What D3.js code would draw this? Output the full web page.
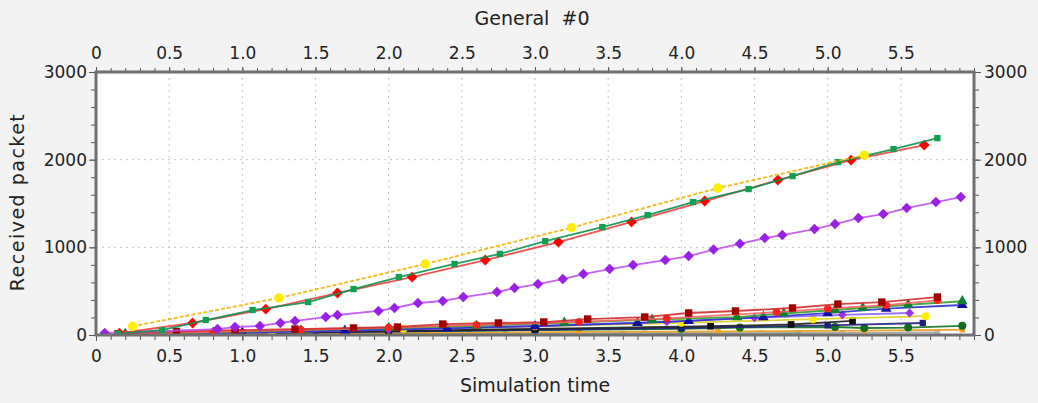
<!DOCTYPE html>
<html>
<head>
<meta charset="utf-8">
<script src="https://cdn.jsdelivr.net/npm/d3@7"></script>
<style>
  html, body { margin: 0; padding: 0; background: #f3f3f3; }
  svg { display: block; font-family: "DejaVu Sans", sans-serif; }
</style>
</head>
<body>
<svg id="chart" width="1038" height="403"></svg>
<script>
// Data (time, received packets)
var xTicks = [0, 0.5, 1.0, 1.5, 2.0, 2.5, 3.0, 3.5, 4.0, 4.5, 5.0, 5.5];
var yTicks = [0, 1000, 2000, 3000];

var yellowTop = [[0.25, 100], [1.25, 422], [2.25, 810], [3.25, 1225], [4.25, 1676], [5.25, 2052]];
var redTop = [[0.16, 20], [0.66, 137], [1.16, 296], [1.65, 479], [2.16, 661], [2.66, 855], [3.16, 1060],
              [3.66, 1290], [4.16, 1528], [4.66, 1767], [5.16, 1995], [5.66, 2166]];
var greenTop = [[0.15, 15], [0.45, 55], [0.75, 171], [1.07, 285], [1.45, 376], [1.76, 524], [2.07, 661],
                [2.45, 810], [2.76, 925], [3.07, 1070], [3.46, 1231], [3.77, 1368], [4.08, 1516],
                [4.46, 1665], [4.76, 1813], [5.07, 1972], [5.45, 2120], [5.75, 2246]];
var purpleMid = [[0.06, 23], [0.83, 68], [0.95, 91], [1.12, 103], [1.26, 137], [1.36, 160], [1.57, 205],
                 [1.65, 228], [1.93, 274], [2.04, 308], [2.2, 365], [2.37, 388], [2.51, 433], [2.74, 490],
                 [2.86, 536], [3.02, 581], [3.19, 638], [3.33, 695], [3.51, 752], [3.67, 798], [3.89, 855],
                 [4.05, 900], [4.22, 975], [4.4, 1040], [4.57, 1106], [4.69, 1140], [4.91, 1209],
                 [5.05, 1266], [5.21, 1334], [5.38, 1380], [5.54, 1448], [5.74, 1517], [5.91, 1574]];

var darkRedLow = [[0.15, 15], [0.55, 40], [0.95, 55], [1.36, 68], [1.76, 80], [2.06, 91], [2.37, 125],
                  [2.75, 137], [3.06, 148], [3.36, 182], [3.75, 205], [4.05, 251], [4.37, 274],
                  [4.76, 308], [5.07, 353], [5.37, 376], [5.75, 433]];
var redLow = [[0.2, 10], [0.8, 35], [1.4, 60], [2.0, 85], [2.6, 115], [3.3, 150], [3.9, 190],
              [4.65, 260], [5.0, 300], [5.4, 340], [5.75, 395]];
var greenLow = [[0.2, 10], [0.8, 30], [1.4, 55], [2.0, 80], [2.6, 105], [3.2, 140], [3.8, 175],
                [4.38, 205], [4.7, 245], [5.05, 285], [5.24, 308], [5.55, 345], [5.92, 385]];
var blueLow = [[0.2, 5], [1.0, 28], [1.7, 50], [2.4, 75], [3.0, 100], [3.7, 137], [4.05, 160],
               [4.56, 205], [5.0, 250], [5.4, 300], [5.92, 342]];
var violetLow = [[0.3, 5], [1.0, 25], [2.0, 60], [3.0, 105], [3.9, 150], [4.5, 195], [5.1, 230], [5.56, 251]];
var yellowLow = [[0.3, 5], [1.2, 30], [2.1, 70], [3.0, 100], [4.0, 140], [4.9, 180], [5.67, 215]];
var blackLow = [[0.15, 5], [1.0, 25], [2.0, 45], [3.0, 70], [4.2, 100], [4.75, 120], [5.17, 160]];
var navyLow = [[0.2, 5], [1.5, 30], [3.0, 60], [4.0, 80], [5.0, 110], [5.65, 137]];
var darkGreenLow = [[0.2, 5], [1.0, 20], [2.0, 40], [3.0, 55], [4.0, 70], [4.4, 85], [5.05, 91],
                    [5.25, 80], [5.55, 85], [5.92, 105]];
var orangeLow = [[0.25, 3], [0.6, 8], [1.25, 15], [2.25, 25], [3.3, 35], [4.25, 40], [5.25, 50], [5.92, 60]];
var grayLow = [[0.3, 2], [1.5, 8], [2.55, 15], [3.75, 20], [4.55, 22], [5.1, 25], [5.75, 30]];
var tealLow = [[0.4, 2], [1.5, 6], [2.8, 12], [3.6, 15], [4.8, 18]];

// series styling
var series = [
  { data: tealLow,      line: "#30b0c0", mark: "#30b0c0", sym: d3.symbolSquare,   size: 30 },
  { data: grayLow,      line: "#a0a0a0", mark: "#b0b0b0", sym: d3.symbolSquare,   size: 30 },
  { data: orangeLow,    line: "#e8a020", mark: "#f0a020", sym: d3.symbolSquare,   size: 30 },
  { data: darkGreenLow, line: "#107020", mark: "#107020", sym: d3.symbolCircle,   size: 50 },
  { data: navyLow,      line: "#202080", mark: "#202080", sym: d3.symbolSquare,   size: 40 },
  { data: blackLow,     line: "#202020", mark: "#101010", sym: d3.symbolSquare,   size: 45 },
  { data: yellowLow,    line: "#e0d020", mark: "#ffee00", sym: d3.symbolCircle,   size: 50 },
  { data: violetLow,    line: "#9060ff", mark: "#a030f0", sym: d3.symbolDiamond2, size: 50 },
  { data: blueLow,      line: "#3030d0", mark: "#1010a0", sym: d3.symbolTriangle, size: 50 },
  { data: greenLow,     line: "#30a030", mark: "#108030", sym: d3.symbolTriangle, size: 50 },
  { data: redLow,       line: "#ff6060", mark: "#ff2020", sym: d3.symbolCircle,   size: 45 },
  { data: darkRedLow,   line: "#d03030", mark: "#a00000", sym: d3.symbolSquare,   size: 55 },
  { data: purpleMid,    line: "#c050f0", mark: "#9a20e8", sym: d3.symbolDiamond2, size: 70 },
  { data: redTop,       line: "#f04040", mark: "#ff0000", sym: d3.symbolDiamond2, size: 75 },
  { data: greenTop,     line: "#109050", mark: "#10a050", sym: d3.symbolSquare,   size: 40 },
  { data: yellowTop,    line: "#f5b000", mark: "#ffee00", sym: d3.symbolCircle,   size: 70, dash: "4,2" }
];

var svg = d3.select("#chart");
var W = 1038, H = 403;
var pLeft = 96, pRight = 974, pTop = 72, pBottom = 335;

var x = d3.scaleLinear().domain([0, 6.0]).range([pLeft, pRight]);
var y = d3.scaleLinear().domain([0, 3000]).range([pBottom, pTop]);

svg.append("rect").attr("width", W).attr("height", H).attr("fill", "#f3f3f3");
svg.append("rect").attr("x", pLeft).attr("y", pTop).attr("width", pRight - pLeft).attr("height", pBottom - pTop)
  .attr("fill", "#ffffff");

// grid
var grid = svg.append("g").attr("stroke", "#c4c4c4").attr("stroke-dasharray", "2,4").attr("stroke-width", 1);
xTicks.filter(function(d) { return d > 0; }).forEach(function(d) {
  grid.append("line").attr("x1", x(d)).attr("x2", x(d)).attr("y1", pTop).attr("y2", pBottom);
});
yTicks.filter(function(d) { return d > 0 && d < 3000; }).forEach(function(d) {
  grid.append("line").attr("x1", pLeft).attr("x2", pRight).attr("y1", y(d)).attr("y2", y(d));
});

// series
svg.append("clipPath").attr("id", "clip").append("rect")
  .attr("x", pLeft).attr("y", pTop - 5).attr("width", pRight - pLeft).attr("height", pBottom - pTop + 5);
var plot = svg.append("g").attr("clip-path", "url(#clip)");
var line = d3.line().x(function(d) { return x(d[0]); }).y(function(d) { return y(d[1]); });

series.forEach(function(s) {
  plot.append("path").datum(s.data).attr("d", line)
    .attr("fill", "none").attr("stroke", s.line).attr("stroke-width", 1.8)
    .attr("stroke-dasharray", s.dash || null).attr("opacity", 0.9);
  plot.selectAll(null).data(s.data).enter().append("path")
    .attr("d", d3.symbol().type(s.sym).size(s.size))
    .attr("transform", function(d) { return "translate(" + x(d[0]) + "," + y(d[1]) + ")"; })
    .attr("fill", s.mark);
});

// axes
var tickFmt = function(d) { return d === 0 ? "0" : d3.format(".1f")(d); };
var xMinor = d3.range(0, 61).map(function(i) { return i / 10; });
var yMinor = d3.range(0, 16).map(function(i) { return i * 200; });

function styleAxis(g) {
  g.select(".domain").remove();
  g.selectAll("line").attr("stroke", "#555");
  g.selectAll("text").attr("fill", "#222").style("font-size", "17px").style("font-family", "DejaVu Sans, sans-serif");
}

svg.append("g").attr("transform", "translate(0," + (pBottom + 1) + ")")
  .call(d3.axisBottom(x).tickValues(xMinor).tickSize(4).tickFormat(""))
  .call(styleAxis);
svg.append("g").attr("transform", "translate(0," + (pBottom + 1) + ")")
  .call(d3.axisBottom(x).tickValues(xTicks).tickSize(5).tickPadding(9).tickFormat(tickFmt))
  .call(styleAxis);
svg.append("g").attr("transform", "translate(0," + (pTop - 1) + ")")
  .call(d3.axisTop(x).tickValues(xMinor).tickSize(3).tickFormat(""))
  .call(styleAxis);
svg.append("g").attr("transform", "translate(0," + (pTop - 1) + ")")
  .call(d3.axisTop(x).tickValues(xTicks).tickSize(4).tickPadding(8).tickFormat(tickFmt))
  .call(styleAxis);
svg.append("g").attr("transform", "translate(" + (pLeft - 1) + ",0)")
  .call(d3.axisLeft(y).tickValues(yMinor).tickSize(4).tickFormat(""))
  .call(styleAxis);
svg.append("g").attr("transform", "translate(" + (pLeft - 1) + ",0)")
  .call(d3.axisLeft(y).tickValues(yTicks).tickSize(6).tickPadding(2).tickFormat(d3.format("d")))
  .call(styleAxis);
svg.append("g").attr("transform", "translate(" + (pRight + 1) + ",0)")
  .call(d3.axisRight(y).tickValues(yMinor).tickSize(4).tickFormat(""))
  .call(styleAxis);
svg.append("g").attr("transform", "translate(" + (pRight + 1) + ",0)")
  .call(d3.axisRight(y).tickValues(yTicks).tickSize(6).tickPadding(3).tickFormat(d3.format("d")))
  .call(styleAxis);

// frame
svg.append("rect").attr("x", pLeft).attr("y", pTop).attr("width", pRight - pLeft).attr("height", pBottom - pTop)
  .attr("fill", "none").attr("stroke", "#707070").attr("stroke-width", 3);

// titles
svg.append("text").attr("x", 532).attr("y", 25).attr("text-anchor", "middle")
  .style("font-size", "19px").attr("fill", "#222").attr("xml:space", "preserve").text("General  #0");
svg.append("text").attr("x", 535).attr("y", 392).attr("text-anchor", "middle")
  .style("font-size", "19px").attr("fill", "#222").text("Simulation time");
svg.append("text").attr("transform", "translate(24,202) rotate(-90)").attr("text-anchor", "middle")
  .style("font-size", "19px").style("letter-spacing", "1.5px").attr("fill", "#222").text("Received packet");
</script>
</body>
</html>
